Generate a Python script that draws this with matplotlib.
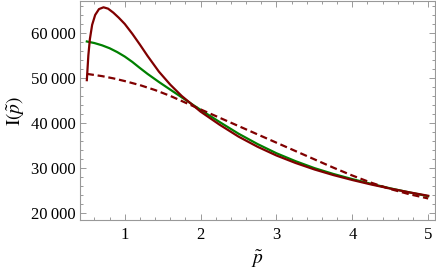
import matplotlib.pyplot as plt

plt.rcParams['font.family'] = ['Liberation Serif', 'DejaVu Serif']
plt.rcParams['mathtext.fontset'] = 'stix'

# solid dark red curve
x_red = [0.50, 0.52, 0.54, 0.57, 0.61, 0.66, 0.72, 0.78, 0.85, 0.92, 1.00,
         1.10, 1.20, 1.30, 1.45, 1.60, 1.75, 1.90, 2.00, 2.25, 2.50, 2.75,
         3.00, 3.25, 3.50, 3.75, 4.00, 4.25, 4.50, 4.75, 5.00]
y_red = [49500, 55000, 58600, 61800, 64000, 65300, 65700, 65400, 64500, 63400, 62000,
         59800, 57400, 54900, 51400, 48500, 46000, 43900, 42500, 39600, 36950, 34700,
         32750, 31100, 29650, 28400, 27300, 26300, 25400, 24570, 23800]

# solid green curve
x_green = [0.50, 0.60, 0.70, 0.80, 0.90, 1.00, 1.10, 1.20, 1.30, 1.45, 1.60,
           1.75, 1.90, 2.00, 2.25, 2.50, 2.75, 3.00, 3.25, 3.50, 3.75, 4.00,
           4.25, 4.50, 4.75, 5.00]
y_green = [58100, 57750, 57250, 56600, 55750, 54750, 53550, 52200, 50900, 49100, 47400,
           45700, 44000, 42900, 40200, 37600, 35300, 33250, 31500, 29950, 28650, 27500,
           26450, 25450, 24550, 23700]

# dashed dark red curve
x_dash = [0.50, 0.70, 0.85, 1.00, 1.20, 1.40, 1.60, 1.80, 2.00, 2.25, 2.50,
          2.75, 3.00, 3.25, 3.50, 3.75, 4.00, 4.25, 4.50, 4.75, 5.00]
y_dash = [50900, 50400, 49900, 49300, 48400, 47300, 46000, 44500, 43000, 41150, 39300,
          37450, 35600, 33750, 31900, 30050, 28300, 26700, 25300, 24150, 23200]

x_ticks = [1, 2, 3, 4, 5]
y_ticks = [20000, 30000, 40000, 50000, 60000]
y_tick_labels = ['20\u2009000', '30\u2009000', '40\u2009000', '50\u2009000', '60\u2009000']

fig = plt.figure(figsize=(4.36, 2.71), dpi=100)
ax = fig.add_axes([0.1835, 0.188, 0.8142, 0.8083])

ax.plot(x_green, y_green, color='#008000', lw=1.6)
ax.plot(x_dash, y_dash, color='#800000', lw=1.6, ls=(0, (3.2, 1.7)))
ax.plot(x_red, y_red, color='#800000', lw=1.6)

ax.set_xlim(0.41, 5.09)
ax.set_ylim(18400, 67100)

ax.set_xticks(x_ticks)
ax.set_xticklabels([str(t) for t in x_ticks])
ax.set_xticks([0.6, 0.8, 1.2, 1.4, 1.6, 1.8, 2.2, 2.4, 2.6, 2.8, 3.2, 3.4, 3.6, 3.8,
               4.2, 4.4, 4.6, 4.8], minor=True)
ax.set_yticks(y_ticks)
ax.set_yticklabels(y_tick_labels)
ax.set_yticks([22000, 24000, 26000, 28000, 32000, 34000, 36000, 38000, 42000, 44000,
               46000, 48000, 52000, 54000, 56000, 58000, 62000, 64000, 66000], minor=True)

for s in ax.spines.values():
    s.set_color('#999999')
    s.set_linewidth(0.8)
ax.tick_params(which='both', direction='in', top=True, right=True, color='#999999',
               labelsize=12, width=0.7)
ax.tick_params(which='major', length=4)
ax.tick_params(which='minor', length=2)
ax.tick_params(axis='x', pad=5)
ax.tick_params(axis='y', pad=3)

ax.set_xlabel(r'$\tilde{p}$', fontsize=14, labelpad=4)
ax.set_ylabel(r'$\mathrm{I}(\tilde{p})$', fontsize=14, labelpad=4)

fig.savefig('out.png', dpi=100)
